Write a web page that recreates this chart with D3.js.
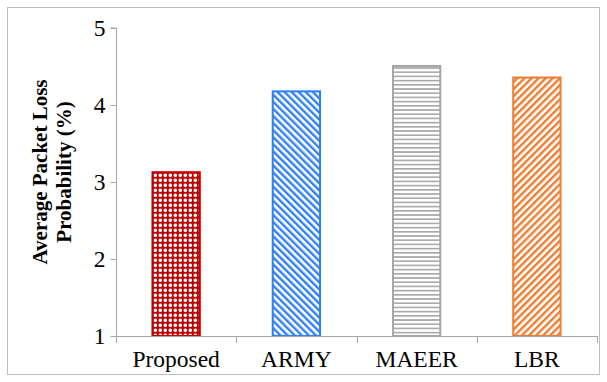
<!DOCTYPE html>
<html>
<head>
<meta charset="utf-8">
<script src="https://cdn.jsdelivr.net/npm/d3@7/dist/d3.min.js"></script>
<style>
  html, body { margin: 0; padding: 0; background: #fff; }
  svg { display: block; }
</style>
</head>
<body>
<svg id="chart" width="607" height="382"></svg>
<script>
// Average packet loss probability per routing scheme
const categories = ["Proposed", "ARMY", "MAEER", "LBR"];
const lossValues = [3.14, 4.19, 4.52, 4.37];
const yTicks = [1, 2, 3, 4, 5];
const barColors = ["#C00000", "#2F7FF5", "#A6A6A6", "#ED7D31"];
const patternIds = ["pGrid", "pDiagDown", "pHoriz", "pDiagUp"];

const svg = d3.select("#chart");
const W = 607, H = 382;
const margin = { left: 116, right: 10, top: 28, bottom: 46 };

// outer frame
svg.append("rect")
  .attr("x", 7.5).attr("y", 7.5)
  .attr("width", 592).attr("height", 367)
  .attr("fill", "#fff").attr("stroke", "#BFBFBF").attr("stroke-width", 1);

// fill patterns
const defs = svg.append("defs");
// red dotted grid
const pg = defs.append("pattern").attr("id", "pGrid").attr("patternUnits", "userSpaceOnUse")
  .attr("width", 5).attr("height", 5);
pg.append("rect").attr("width", 5).attr("height", 5).attr("fill", "#fff");
pg.append("rect").attr("x", 0).attr("y", 2).attr("width", 5).attr("height", 1.6).attr("fill", barColors[0]);
pg.append("rect").attr("x", 2).attr("y", 0).attr("width", 1.6).attr("height", 5).attr("fill", barColors[0]);
pg.append("rect").attr("x", 1.3).attr("y", 1.3).attr("width", 3).attr("height", 3).attr("fill", barColors[0]);
// blue diagonal, top-left to bottom-right
const pd = defs.append("pattern").attr("id", "pDiagDown").attr("patternUnits", "userSpaceOnUse")
  .attr("width", 5).attr("height", 5).attr("patternTransform", "rotate(-45)");
pd.append("rect").attr("width", 5).attr("height", 5).attr("fill", "#fff");
pd.append("rect").attr("width", 2.4).attr("height", 5).attr("fill", barColors[1]);
// gray horizontal lines
const ph = defs.append("pattern").attr("id", "pHoriz").attr("patternUnits", "userSpaceOnUse")
  .attr("width", 4).attr("height", 4.2);
ph.append("rect").attr("width", 4).attr("height", 4.2).attr("fill", "#fff");
ph.append("rect").attr("width", 4).attr("height", 1.6).attr("fill", barColors[2]);
// orange diagonal, bottom-left to top-right
const pu = defs.append("pattern").attr("id", "pDiagUp").attr("patternUnits", "userSpaceOnUse")
  .attr("width", 5).attr("height", 5).attr("patternTransform", "rotate(45)");
pu.append("rect").attr("width", 5).attr("height", 5).attr("fill", "#fff");
pu.append("rect").attr("width", 2.4).attr("height", 5).attr("fill", barColors[3]);

const x = d3.scaleBand().domain(categories)
  .range([margin.left, W - margin.right]).paddingInner(0.59).paddingOuter(0.295);
const y = d3.scaleLinear().domain([1, 5]).range([H - margin.bottom, margin.top]);

// bars
svg.append("g").selectAll("rect").data(categories).join("rect")
  .attr("x", d => x(d) + 1)
  .attr("y", (d, i) => y(lossValues[i]) + 1)
  .attr("width", x.bandwidth() - 2)
  .attr("height", (d, i) => y(1) - y(lossValues[i]) - 1)
  .attr("fill", (d, i) => `url(#${patternIds[i]})`)
  .attr("stroke", (d, i) => barColors[i])
  .attr("stroke-width", 2);

// x axis with category boundary ticks
const xBoundaries = d3.scaleLinear().domain([0, categories.length])
  .range([margin.left, W - margin.right]);
const gx = svg.append("g").attr("transform", `translate(0,${y(1)})`);
gx.append("line")
  .attr("x1", margin.left).attr("x2", W - margin.right)
  .attr("y1", 0.5).attr("y2", 0.5)
  .attr("stroke", "#A6A6A6").attr("stroke-width", 1);
gx.selectAll(".bt").data(d3.range(categories.length + 1)).join("line")
  .attr("x1", d => Math.round(xBoundaries(d)) + 0.5)
  .attr("x2", d => Math.round(xBoundaries(d)) + 0.5)
  .attr("y1", 0).attr("y2", 7)
  .attr("stroke", "#A6A6A6");
gx.selectAll("text").data(categories).join("text")
  .attr("x", d => x(d) + x.bandwidth() / 2)
  .attr("y", 31)
  .attr("text-anchor", "middle")
  .attr("font-family", "Liberation Serif, Times New Roman, serif")
  .attr("font-size", 23.5)
  .attr("fill", "#000")
  .text(d => d);

// y axis
const gy = svg.append("g").attr("transform", `translate(${margin.left + 0.5},0)`)
  .call(d3.axisLeft(y).tickValues(yTicks).tickSize(6).tickPadding(5).tickFormat(d3.format("d")));
gy.select(".domain").attr("stroke", "#A6A6A6").attr("d", `M-6,${y(5)}H0V${y(1)}`);
gy.selectAll(".tick line").attr("stroke", "#A6A6A6");
gy.selectAll(".tick text")
  .attr("font-family", "Liberation Serif, Times New Roman, serif")
  .attr("font-size", 23.5)
  .attr("fill", "#000");

// y axis title
const title = svg.append("text")
  .attr("transform", `translate(47,172) rotate(-90)`)
  .attr("text-anchor", "middle")
  .attr("font-family", "Liberation Serif, Times New Roman, serif")
  .attr("font-weight", "bold")
  .attr("font-size", 21)
  .attr("fill", "#000");
title.append("tspan").attr("x", 0).attr("dy", 0).text("Average Packet Loss");
title.append("tspan").attr("x", 0).attr("dy", 24).text("Probability (%)");
</script>
</body>
</html>
